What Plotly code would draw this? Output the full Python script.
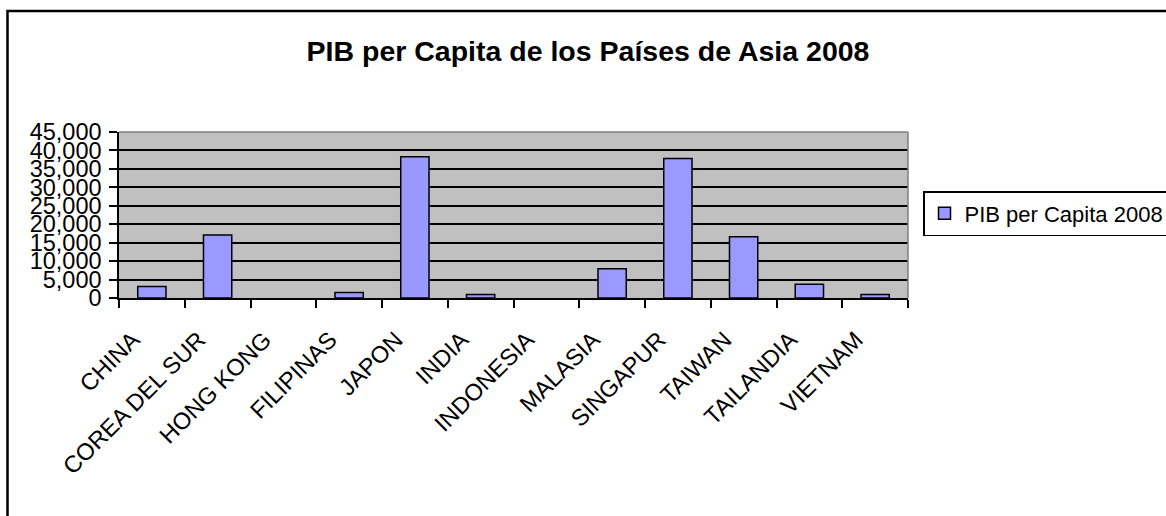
import plotly.graph_objects as go

categories = ["CHINA", "COREA DEL SUR", "HONG KONG", "FILIPINAS", "JAPON", "INDIA",
              "INDONESIA", "MALASIA", "SINGAPUR", "TAIWAN", "TAILANDIA", "VIETNAM"]
pib_2008 = [3100, 17100, None, 1500, 38300, 950, None, 7900, 37800, 16600, 3700, 950]
series_name = "PIB per Capita 2008"
title_text = "PIB per Capita de los Países de Asia 2008"
y_ticks = [0, 5000, 10000, 15000, 20000, 25000, 30000, 35000, 40000, 45000]

W, H = 1166, 516
L, R, T, B = 119, 908, 132, 298
FONT = "Liberation Sans, Arial, sans-serif"

fig = go.Figure()
fig.add_trace(go.Bar(
    x=categories, y=pib_2008, name=series_name,
    width=0.43,
    marker=dict(color="#9999FF", line=dict(color="black", width=1.5)),
    showlegend=True,
))

def px_to_paper_x(px):
    return (px - L) / (R - L)

def px_to_paper_y(py):
    return (B - py) / (B - T)

fig.update_layout(
    width=W, height=H,
    margin=dict(l=L, r=W - R, t=T, b=H - B, autoexpand=False),
    paper_bgcolor="white",
    plot_bgcolor="#C0C0C0",
    font=dict(family=FONT, color="black"),
    title=dict(text="<b>" + title_text + "</b>", x=588 / W, xanchor="center",
               y=(H - 51) / H, yanchor="middle", xref="container", yref="container",
               font=dict(size=28.5, family=FONT, color="black")),
    showlegend=True,
    legend=dict(x=px_to_paper_x(923), y=px_to_paper_y(191), xanchor="left", yanchor="top",
                bgcolor="white", bordercolor="black", borderwidth=1.5,
                font=dict(size=22, family=FONT, color="black")),
    bargap=0.57,
)

fig.update_yaxes(
    range=[0, 45000], tickvals=y_ticks, tickformat=",",
    showgrid=True, gridcolor="black", gridwidth=1.5,
    showline=True, linecolor="black", linewidth=1.5,
    ticks="outside", ticklen=8, tickwidth=1.5, tickcolor="black",
    tickfont=dict(size=23.5, family=FONT, color="black"),
    ticklabelstandoff=3,
    zeroline=False, fixedrange=True,
)
fig.update_xaxes(
    tickangle=-45, tickson="boundaries",
    showline=True, linecolor="black", linewidth=1.5,
    ticks="outside", ticklen=8, tickwidth=1.5, tickcolor="black",
    tickfont=dict(size=23.5, family=FONT, color="black"),
    ticklabelshift=-19, ticklabelstandoff=17,
    showgrid=False, fixedrange=True,
)

# gray border on top and right of plot area
fig.add_shape(type="line", xref="paper", yref="paper", x0=0, x1=1, y0=1, y1=1,
              line=dict(color="#808080", width=1.5))
fig.add_shape(type="line", xref="paper", yref="paper", x0=1, x1=1, y0=0, y1=1,
              line=dict(color="#808080", width=1.5))
# outer chart border (extends past the right and bottom edge)
fig.add_shape(type="rect", xref="paper", yref="paper",
              x0=px_to_paper_x(7.5), x1=px_to_paper_x(1300),
              y0=px_to_paper_y(700), y1=px_to_paper_y(11),
              line=dict(color="black", width=2.5), fillcolor="rgba(0,0,0,0)", layer="below")

fig.write_html("out.html", config={"displayModeBar": False},
               post_script="document.body.style.margin='0';document.body.style.overflow='hidden';")
